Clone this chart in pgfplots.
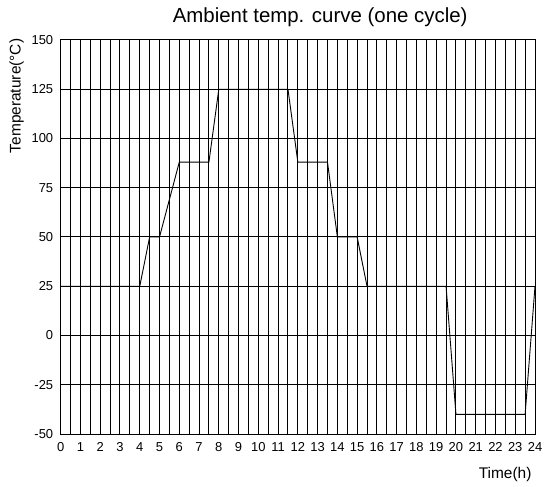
\documentclass[border=0pt]{standalone}
\usepackage{pgfplots}
\pgfplotsset{compat=1.18}
\usepackage{fontspec}
\setmainfont{Liberation Sans}
\begin{document}
\begin{tikzpicture}
\begin{axis}[
  scale only axis,
  width=474.3bp, height=394bp,
  xmin=0, xmax=24, ymin=-50, ymax=150,
  xtick={0,1,...,24},
  ytick={-50,-25,0,25,50,75,100,125,150},
  minor x tick num=1,
  xmajorgrids, xminorgrids, ymajorgrids,
  major grid style={black, line width=1bp},
  minor grid style={black, line width=1bp},
  axis line style={black, line width=1bp},
  major tick length=0pt, minor tick length=0pt,
  /pgf/number format/assume math mode=true,
  ticklabel style={font=\fontsize{13}{15}\selectfont},
  xticklabel style={yshift=-5bp},
  yticklabel style={xshift=-4bp},
  title={Ambient temp. curve (one cycle)},
  title style={at={(rel axis cs:0.547,1)}, anchor=base, yshift=12bp, font=\fontsize{20.5}{24}\selectfont},
  xlabel={Time(h)},
  ylabel={Temperature(°C)},
  every axis x label/.style={at={(rel axis cs:0.937,-0.104)}, anchor=center, font=\fontsize{15.5}{18}\selectfont},
  every axis y label/.style={at={(rel axis cs:-0.0928,0.858)}, anchor=center, rotate=90, font=\fontsize{15.5}{18}\selectfont},
]
\addplot[black, line width=0.9bp] coordinates {
(0,25) (4,25) (4.5,50) (5,50) (6,88) (7.5,88) (8,125) (11.5,125) (12,88)
(13.5,88) (14,50) (15,50) (15.5,25) (19.5,25) (20,-40) (23.5,-40) (24,25)
};
\end{axis}
\pgfresetboundingbox
\path (-60.7bp,-53bp) rectangle (483.3bp,434bp);
\end{tikzpicture}
\end{document}
